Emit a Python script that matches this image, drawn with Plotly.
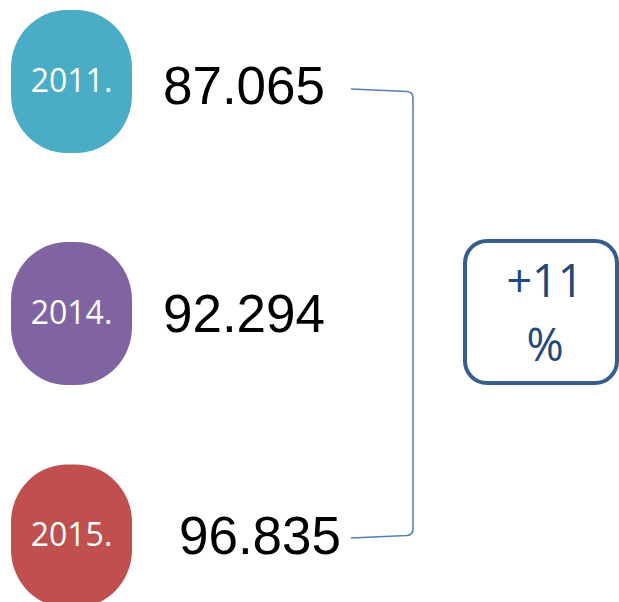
import plotly.graph_objects as go

# ---- data ----
years = ["2011.", "2014.", "2015."]
values = [87065, 92294, 96835]
year_colors = ["#4BACC6", "#8064A2", "#C0504D"]
change_label = ["+11", "%"]

# ---- layout helpers (pixel-like data coordinates) ----
W, H = 619, 602
blob_cx = 71.5
blob_cy = [81.5, 313.5, 536]
blob_w, blob_h = 121, 143
value_x = [244, 244, 260]
value_y = [91, 319, 541]


def fmt(v):
    return f"{v:,}".replace(",", ".")


def rounded_path(x0, y0, x1, y1, rx, ry):
    k = 0.5523
    return (
        f"M{x0+rx},{y0} L{x1-rx},{y0} "
        f"C{x1-rx+k*rx},{y0} {x1},{y0+ry-k*ry} {x1},{y0+ry} "
        f"L{x1},{y1-ry} "
        f"C{x1},{y1-ry+k*ry} {x1-rx+k*rx},{y1} {x1-rx},{y1} "
        f"L{x0+rx},{y1} "
        f"C{x0+rx-k*rx},{y1} {x0},{y1-ry+k*ry} {x0},{y1-ry} "
        f"L{x0},{y0+ry} "
        f"C{x0},{y0+ry-k*ry} {x0+rx-k*rx},{y0} {x0+rx},{y0} Z"
    )


fig = go.Figure()

shapes = []
for i, c in enumerate(year_colors):
    cy = blob_cy[i]
    shapes.append(dict(
        type="path",
        path=rounded_path(blob_cx - blob_w / 2, cy - blob_h / 2,
                          blob_cx + blob_w / 2, cy + blob_h / 2, 56, 58),
        fillcolor=c, line=dict(width=0), layer="below",
    ))

# bracket
shapes.append(dict(
    type="path",
    path="M351,89 L407,91.5 Q413,92 413,98 L413,529 Q413,535 407,535.5 L351,538",
    line=dict(color="#4F81BD", width=1.6),
))

# change box
shapes.append(dict(
    type="path",
    path=rounded_path(465, 241, 617, 383, 22, 22),
    line=dict(color="#385D8A", width=4), fillcolor="rgba(0,0,0,0)",
))

# year labels
fig.add_trace(go.Scatter(
    x=[blob_cx] * len(years), y=[v + 2 for v in blob_cy], mode="text", text=years,
    textfont=dict(family="Open Sans", size=32, color="white"),
    textposition="middle center", hoverinfo="skip",
))

# values
fig.add_trace(go.Scatter(
    x=value_x, y=value_y, mode="text", text=[fmt(v) for v in values],
    textfont=dict(family="Liberation Sans", size=53, color="black"),
    textposition="middle center", hoverinfo="skip",
))

# change text
fig.add_trace(go.Scatter(
    x=[545, 545], y=[286, 350], mode="text", text=change_label,
    textfont=dict(family="Open Sans", size=45, color="#1F497D"),
    textposition="middle center", hoverinfo="skip",
))

fig.update_layout(
    width=W, height=H,
    margin=dict(l=0, r=0, t=0, b=0),
    paper_bgcolor="white", plot_bgcolor="white",
    showlegend=False,
    shapes=shapes,
    xaxis=dict(range=[0, W], visible=False, fixedrange=True),
    yaxis=dict(range=[H, 0], visible=False, fixedrange=True),
)

fig.write_html(
    "out.html",
    config={"displayModeBar": False},
    post_script="document.body.style.margin='0';document.body.style.overflow='hidden';",
)
